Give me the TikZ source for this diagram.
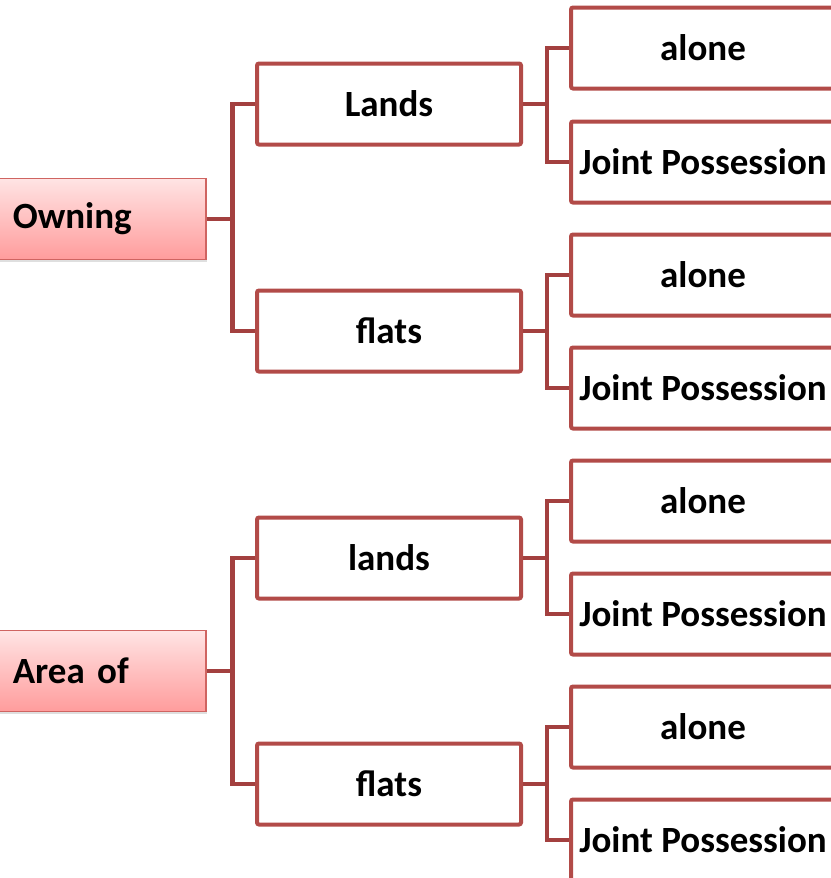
\documentclass[tikz,border=0pt]{standalone}
\usepackage{fontspec}
\setmainfont{Carlito}
\usetikzlibrary{shadows}

\definecolor{boxline}{HTML}{B24B48}
\definecolor{linkline}{HTML}{A3403F}
\definecolor{roottop}{HTML}{FFE4E4}
\definecolor{rootbot}{HTML}{FF9C9C}
\definecolor{rootline}{HTML}{CF6461}

\begin{document}
\begin{tikzpicture}[x=1pt,y=-1pt,
  font=\fontsize{37}{42}\selectfont\bfseries,
  rootbox/.style={rectangle,draw=rootline,line width=1.5pt,top color=roottop,bottom color=rootbot,
    minimum height=81pt,text width=178pt,inner xsep=15pt,align=left,anchor=west,
    drop shadow={opacity=0.25,shadow xshift=1.5pt,shadow yshift=-2pt}},
  midbox/.style={rectangle,draw=boxline,line width=4pt,rounded corners=2pt,fill=white,
    minimum width=264pt,minimum height=81pt,inner sep=0pt},
  leafbox/.style={midbox},
  link/.style={draw=linkline,line width=4.5pt}]

\useasboundingbox (0,0) rectangle (830,878);

%roots
\node[rootbox] (owning) at (-3,219) {Owning};
\node[rootbox] (areaof) at (-3,671) {\mbox{Area of}};

%owning
\node[midbox] (lands) at (389,104) {Lands};
\node[midbox] (flats) at (389,331) {flats};
\draw[link] (owning.east) -- ++(26,0) |- (lands.west);
\draw[link] (owning.east) -- ++(26,0) |- (flats.west);

%area of
\node[midbox] (lands2) at (389,558) {lands};
\node[midbox] (flats2) at (389,784) {flats};
\draw[link] (areaof.east) -- ++(26,0) |- (lands2.west);
\draw[link] (areaof.east) -- ++(26,0) |- (flats2.west);

%lands
\node[leafbox] (alone1) at (703,48) {alone};
\node[leafbox] (joint1) at (703,162) {Joint Possession};
\draw[link] (lands.east) -- ++(24,0) |- (alone1.west);
\draw[link] (lands.east) -- ++(24,0) |- (joint1.west);

%flats
\node[leafbox] (alone2) at (703,275) {alone};
\node[leafbox] (joint2) at (703,388) {Joint Possession};
\draw[link] (flats.east) -- ++(24,0) |- (alone2.west);
\draw[link] (flats.east) -- ++(24,0) |- (joint2.west);

%lands2
\node[leafbox] (alone3) at (703,501) {alone};
\node[leafbox] (joint3) at (703,614) {Joint Possession};
\draw[link] (lands2.east) -- ++(24,0) |- (alone3.west);
\draw[link] (lands2.east) -- ++(24,0) |- (joint3.west);

%flats2
\node[leafbox] (alone4) at (703,727) {alone};
\node[leafbox] (joint4) at (703,840) {Joint Possession};
\draw[link] (flats2.east) -- ++(24,0) |- (alone4.west);
\draw[link] (flats2.east) -- ++(24,0) |- (joint4.west);

\end{tikzpicture}
\end{document}
